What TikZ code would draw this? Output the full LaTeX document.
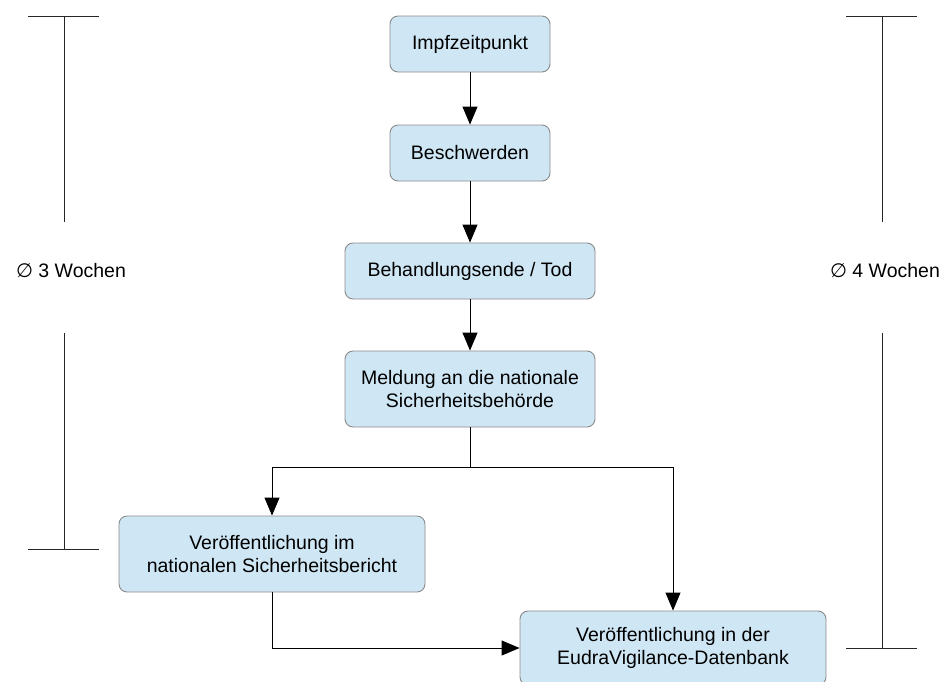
\documentclass[tikz,border=0pt]{standalone}
\usepackage{fontspec}
\setmainfont{Liberation Sans}
\newfontfamily\symfont{DejaVu Sans}
\usetikzlibrary{arrows.meta}
\definecolor{boxfill}{HTML}{CFE6F4}
\definecolor{boxline}{HTML}{8A8A8A}
\tikzset{
  flowbox/.style={draw=boxline, fill=boxfill, rounded corners=8pt, line width=0.9pt,
    align=center, inner sep=0pt, font=\fontsize{19.5}{23.5}\selectfont},
  conn/.style={line width=1pt, -{Triangle[length=18pt,width=15pt]}},
  plain/.style={line width=1pt},
  bracket/.style={line width=1pt, draw=black!85},
  durlabel/.style={font=\fontsize{19.5}{23.5}\selectfont, inner sep=0pt}
}
\begin{document}
\begin{tikzpicture}[x=1pt,y=-1pt]
\useasboundingbox (0,0) rectangle (948,681);
% boxes
\node[flowbox, minimum width=160pt, minimum height=56pt] (b1) at (470,44) {Impfzeitpunkt};
\node[flowbox, minimum width=160pt, minimum height=56pt] (b2) at (470,153) {Beschwerden};
\node[flowbox, minimum width=250pt, minimum height=56pt] (b3) at (470,271) {Behandlungsende / Tod};
\node[flowbox, minimum width=250pt, minimum height=76pt] (b4) at (470,389) {Meldung an die nationale\\Sicherheitsbehörde};
\node[flowbox, minimum width=306pt, minimum height=76pt] (b5) at (272,554) {Veröffentlichung im\\nationalen Sicherheitsbericht};
\node[flowbox, minimum width=306pt, minimum height=74pt] (b6) at (673,648) {Veröffentlichung in der\\EudraVigilance-Datenbank};
% connectors
\draw[conn] (b1) -- (b2);
\draw[conn] (b2) -- (b3);
\draw[conn] (b3) -- (b4);
\coordinate (split) at (470,467);
\draw[plain] (b4.south) -- (split);
\draw[conn] (split) -| (b5.north);
\draw[conn] (split) -| (b6.north);
\draw[conn] (b5.south) |- (b6.west);
% left bracket
\coordinate (lt) at (64,16);
\coordinate (lb) at (64,549);
\node[durlabel] (lab1) at (71,271) {{\symfont ∅} 3 Wochen};
\draw[bracket] (28,16) -- (99,16);
\draw[bracket] (lt) -- (64,222);
\draw[bracket] (64,333) -- (lb);
\draw[bracket] (28,549) -- (99,549);
% right bracket
\coordinate (rt) at (882,16);
\coordinate (rb) at (882,648);
\node[durlabel] (lab2) at (885,271) {{\symfont ∅} 4 Wochen};
\draw[bracket] (846,16) -- (917,16);
\draw[bracket] (rt) -- (882,222);
\draw[bracket] (882,333) -- (rb);
\draw[bracket] (846,648) -- (917,648);
\end{tikzpicture}
\end{document}
